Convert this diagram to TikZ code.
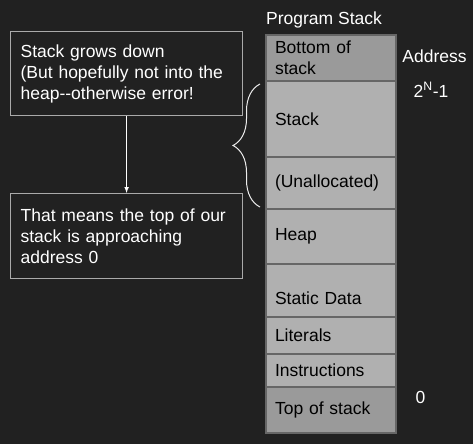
\documentclass[tikz,border=0pt]{standalone}
\usepackage{fontspec}
\setmainfont{Liberation Sans}
\usetikzlibrary{positioning}
\usetikzlibrary{arrows}
\usetikzlibrary{decorations.pathreplacing}

\definecolor{bgdark}{HTML}{212121}
\definecolor{cellgray}{HTML}{B0B0B0}
\definecolor{celldark}{HTML}{9A9A9A}
\definecolor{cellline}{HTML}{666666}
\definecolor{boxline}{HTML}{AAAAAA}

\tikzset{
  txt/.style={font=\fontsize{17.5}{21}\selectfont},
  cell/.style={txt, draw=cellline, line width=1.2pt, fill=cellgray, text=black,
    minimum width=130pt, text width=112pt, inner xsep=9pt, inner ysep=2pt,
    align=left, outer sep=0pt},
  endcell/.style={cell, fill=celldark},
  note/.style={txt, draw=boxline, line width=1.2pt, text=white, text width=212pt,
    inner xsep=10pt, align=left, minimum height=84pt, anchor=north west},
  lbl/.style={txt, text=white, inner sep=0pt}
}

\begin{document}
\begin{tikzpicture}[x=1pt,y=-1pt,node distance=0pt]
\fill[bgdark] (0,0) rectangle (473,444);
% the stack, high addresses on top
\node[endcell, minimum height=46pt, anchor=north west] (bos) at (266,35) {Bottom of\\stack};
\node[cell, minimum height=76pt, below=of bos] (stk) {Stack};
\node[cell, minimum height=52pt, below=of stk] (unal) {(Unallocated)};
\node[cell, minimum height=55pt, below=of unal] (heap) {Heap};
\node[cell, minimum height=53pt, text height=28pt, below=of heap] (sdata) {Static Data};
\node[cell, minimum height=37pt, below=of sdata] (lits) {Literals};
\node[cell, minimum height=33pt, below=of lits] (instr) {Instructions};
\node[endcell, minimum height=46pt, below=of instr] (tos) {Top of stack};

\node[lbl, anchor=base west] (title) at (266,25) {Program Stack};
\node[lbl, anchor=base] (addr) at (434.5,62) {Address};
\node[lbl, anchor=base] (hiaddr) at (431,97) {2\textsuperscript{N}-1};
\node[lbl, anchor=base] (loaddr) at (420.5,403) {0};

% the notes on the left
\node[note] (grow) at (10,31) {Stack grows down\\(But hopefully not into the\\heap-{}-otherwise error!};
\node[note, minimum height=85pt] (zero) at (10,193) {That means the top of our\\stack is approaching\\address 0};
\draw[white, line width=1pt, -latex] (grow.south) -- (zero.north);

\draw[white!85!gray, line width=1pt, decorate, decoration={brace, amplitude=27pt}]
  ([xshift=-6pt,yshift=2pt]unal.south west) -- ([xshift=-6pt,yshift=-3pt]stk.north west);
\end{tikzpicture}
\end{document}
